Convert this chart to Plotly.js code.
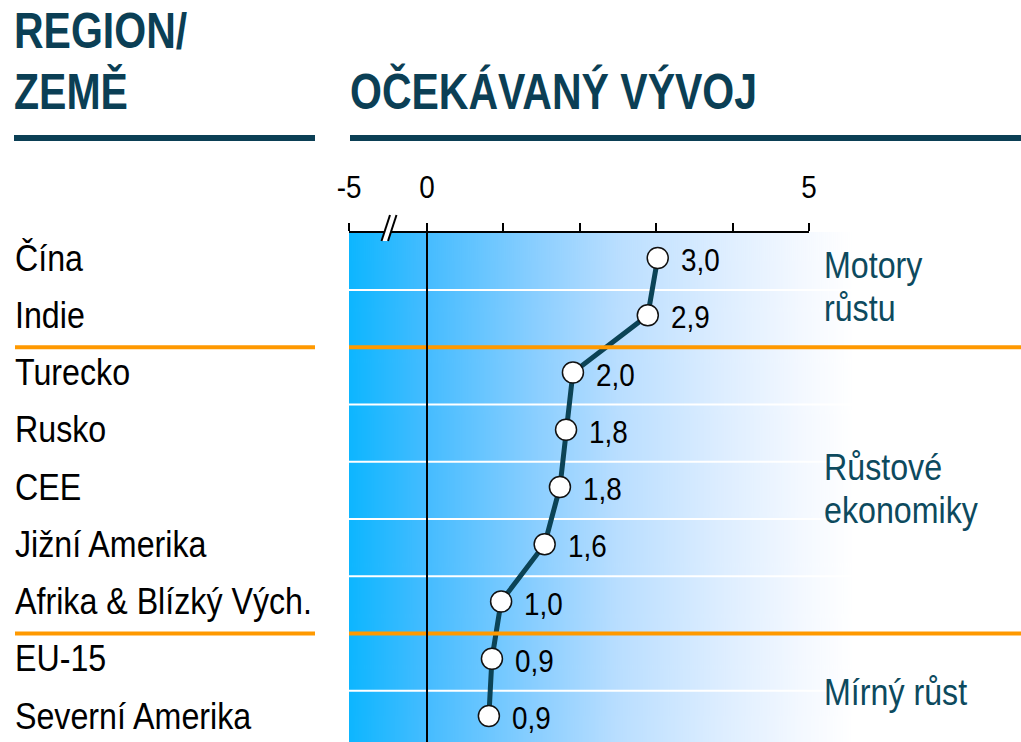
<!DOCTYPE html>
<html><head><meta charset="utf-8">
<script src="https://cdn.plot.ly/plotly-3.0.1.min.js"></script>
<style>html,body{margin:0;padding:0;background:#fff}</style></head>
<body><div id="chart" style="width:1021px;height:742px"></div>
<script>
// ---- data ----
const categories = ["Čína","Indie","Turecko","Rusko","CEE","Jižní Amerika","Afrika & Blízký Vých.","EU-15","Severní Amerika"];
const values = [3.02, 2.89, 1.91, 1.82, 1.74, 1.54, 0.97, 0.85, 0.81];
const valueLabels = ["3,0","2,9","2,0","1,8","1,8","1,6","1,0","0,9","0,9"];
const tickVals = [-1.021, 0, 1, 2, 3, 4, 5];
const tickText = ["-5", "0", "", "", "", "", "5"];
const groupBreaks = [1, 6];            // orange separators after these rows
const groupLines = [["Motory", 265], ["růstu", 308], ["Růstové", 467], ["ekonomiky", 511], ["Mírný růst", 692]];
const titleLeft = ["REGION/", "ZEMĚ"];
const titleRight = "OČEKÁVANÝ VÝVOJ";

// ---- styling ----
const W = 1021, H = 742;
const FN = "'Liberation Sans', Arial, sans-serif";
const NAVY = "#0b3f55";
const ORANGE = "#ff9900";
const LINE = "#0b4356";
const px = v => v / W;
const py = v => 1 - v / H;
const plotTop = 232;
const yDomTop = py(plotTop);
const unit = 76.4;          // pixels per x unit
const xOf = p => (p - 427) / unit;
const rowH = 57.25;
const yIdx = categories.map((c, i) => i);
const NARROW = 0.87, NARROW_BOLD = 0.82;

// gradient background image
const cv = document.createElement('canvas');
cv.width = 672; cv.height = 10;
const ctx = cv.getContext('2d');
const g = ctx.createLinearGradient(0, 0, 672, 0);
g.addColorStop(0.0, '#0db6ff');
g.addColorStop(0.116, '#45bcff');
g.addColorStop(0.283, '#8ccfff');
g.addColorStop(0.40, '#b9deff');
g.addColorStop(0.55, '#dcedff');
g.addColorStop(0.67, '#f3f8ff');
g.addColorStop(0.75, '#ffffff');
ctx.fillStyle = g; ctx.fillRect(0, 0, 672, 10);
const gradURL = cv.toDataURL();

const shapes = [];
for (let i = 0; i < categories.length - 1; i++) {
  if (groupBreaks.includes(i)) continue;
  shapes.push({type:'line', xref:'paper', yref:'y', x0:px(349), x1:1, y0:i+0.56, y1:i+0.56,
    line:{color:'#ffffff', width:2}, layer:'below'});
}
groupBreaks.forEach(i => {
  shapes.push({type:'line', xref:'paper', yref:'y', x0:px(349), x1:1, y0:i+0.56, y1:i+0.56,
    line:{color:ORANGE, width:4}, layer:'above'});
  shapes.push({type:'line', xref:'paper', yref:'y', x0:px(15), x1:px(315), y0:i+0.56, y1:i+0.56,
    line:{color:ORANGE, width:4}, layer:'above'});
});
shapes.push({type:'line', xref:'paper', yref:'paper', x0:px(14), x1:px(315), y0:py(138), y1:py(138), line:{color:NAVY, width:6}});
shapes.push({type:'line', xref:'paper', yref:'paper', x0:px(350), x1:1, y0:py(138), y1:py(138), line:{color:NAVY, width:6}});
shapes.push({type:'line', xref:'x', yref:'paper', x0:tickVals[0], x1:5, y0:yDomTop, y1:yDomTop, line:{color:'#000', width:2}});
shapes.push({type:'line', xref:'x', yref:'paper', x0:0, x1:0, y0:0, y1:yDomTop, line:{color:'#000', width:2}});
const b = (x, y) => xOf(x) + ',' + py(y);
shapes.push({type:'path', xref:'x', yref:'paper',
  path:'M' + b(381.5, 241) + ' L' + b(390, 215) + ' L' + b(396.5, 215) + ' L' + b(388, 241) + ' Z',
  fillcolor:'#ffffff', line:{width:0}});
shapes.push({type:'line', xref:'x', yref:'paper', x0:xOf(381.5), y0:py(241), x1:xOf(390), y1:py(215), line:{color:'#000', width:2}});
shapes.push({type:'line', xref:'x', yref:'paper', x0:xOf(388), y0:py(241), x1:xOf(396.5), y1:py(215), line:{color:'#000', width:2}});

const annotations = [];
const squeezeF = [];
function ann(o, f) { annotations.push(Object.assign({showarrow:false, xanchor:'left', yanchor:'middle', align:'left'}, o)); squeezeF.push(f); }
categories.forEach((c, i) => ann({xref:'paper', yref:'y', x:px(13), y:i, text:c,
  font:{family:FN, size:37, color:'#000'}}, NARROW));
values.forEach((v, i) => ann({xref:'x', yref:'y', x:v, y:i, text:valueLabels[i],
  xshift:21, yshift:-2, font:{family:FN, size:32, color:'#000'}}, NARROW));
groupLines.forEach(([t, y]) => ann({xref:'paper', yref:'paper', x:px(822), y:py(y), text:t,
  font:{family:FN, size:37, color:'#0d4a5e'}}, NARROW));
ann({xref:'paper', yref:'paper', x:px(12), y:py(31), text:titleLeft[0],
  font:{family:FN, size:50, color:NAVY, weight:'bold'}}, NARROW_BOLD);
ann({xref:'paper', yref:'paper', x:px(12), y:py(92), text:titleLeft[1],
  font:{family:FN, size:50, color:NAVY, weight:'bold'}}, NARROW_BOLD);
ann({xref:'paper', yref:'paper', x:px(348), y:py(92), text:titleRight,
  font:{family:FN, size:50, color:NAVY, weight:'bold'}}, NARROW_BOLD);

const trace = {
  type:'scatter', mode:'lines+markers', x:values, y:yIdx,
  line:{color:LINE, width:5},
  marker:{size:21, color:'#ffffff', line:{color:'#111', width:1.5}},
  hoverinfo:'skip', cliponaxis:false
};

const layout = {
  width:W, height:H, margin:{l:0, r:0, t:0, b:0},
  paper_bgcolor:'#fff', plot_bgcolor:'#fff', showlegend:false,
  xaxis:{domain:[px(349), 1], range:[tickVals[0], xOf(1021)], side:'top', showgrid:false, zeroline:false,
    showline:false, ticks:'outside', ticklen:8, tickwidth:2, tickcolor:'#000',
    tickvals:tickVals, ticktext:tickText, ticklabelstandoff:12,
    tickfont:{family:FN, size:32, color:'#000'}, fixedrange:true},
  yaxis:{domain:[0, yDomTop], range:[(H - 258) / rowH, -(258 - plotTop) / rowH], showgrid:false, zeroline:false,
    showticklabels:false, ticks:'', showline:false, fixedrange:true},
  images:[{source:gradURL, xref:'paper', yref:'paper', x:px(349), y:yDomTop, sizex:1 - px(349), sizey:yDomTop,
    xanchor:'left', yanchor:'top', sizing:'stretch', layer:'below'}],
  shapes:shapes, annotations:annotations
};

function squeeze(t, f) {
  const L = t.getComputedTextLength();
  if (L > 0) { t.setAttribute('textLength', (L * f).toFixed(2)); t.setAttribute('lengthAdjust', 'spacingAndGlyphs'); }
}

Plotly.newPlot('chart', [trace], layout, {displayModeBar:false, staticPlot:true}).then(gd => {
  gd.querySelectorAll('g.annotation').forEach(a => {
    const idx = +a.getAttribute('data-index');
    const t = a.querySelector('text.annotation-text');
    if (t && squeezeF[idx]) squeeze(t, squeezeF[idx]);
  });
  gd.querySelectorAll('g.xtick text').forEach(t => squeeze(t, NARROW));
});
</script></body></html>
